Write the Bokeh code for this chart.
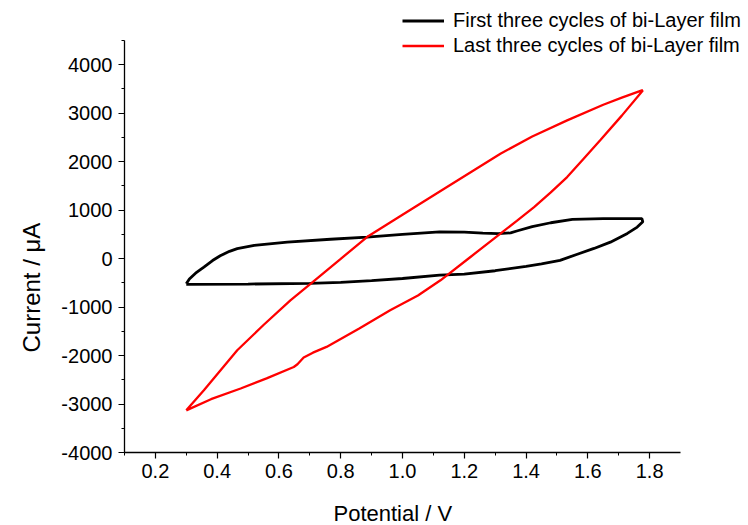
from bokeh.plotting import figure
from bokeh.models import Legend, LegendItem, SingleIntervalTicker, NumeralTickFormatter, Range1d, Title
from bokeh.embed import file_html
from bokeh.resources import INLINE

# First three cycles (black): forward then reverse scan
black_v = [0.300, 0.310, 0.330, 0.357, 0.385, 0.410, 0.440, 0.465, 0.520, 0.627, 0.767, 0.885,
           1.000, 1.120, 1.200, 1.260, 1.310, 1.350, 1.370, 1.420, 1.480, 1.550, 1.650, 1.775,
           1.778, 1.760, 1.728, 1.673, 1.620, 1.566, 1.510, 1.450, 1.400, 1.300, 1.200, 1.120,
           1.000, 0.900, 0.800, 0.700, 0.500, 0.300]
black_i = [-520, -420, -300, -175, -40, 60, 150, 205, 275, 340, 400, 445,
           500, 550, 545, 525, 515, 530, 570, 660, 740, 810, 825, 825,
           760, 650, 520, 340, 210, 90, -35, -110, -160, -250, -320, -340,
           -410, -455, -490, -510, -525, -530]

# Last three cycles (red)
red_v = [0.300, 0.357, 0.465, 0.550, 0.637, 0.710, 0.800, 0.885, 1.000, 1.144, 1.317, 1.420,
         1.533, 1.650, 1.710, 1.775,
         1.778, 1.710, 1.640, 1.585, 1.533, 1.480, 1.426, 1.370, 1.317, 1.220, 1.123, 1.050,
         0.960, 0.860, 0.754, 0.710, 0.680, 0.660, 0.648, 0.560, 0.476, 0.380, 0.300]
red_i = [-3130, -2715, -1890, -1370, -860, -480, -5, 445, 903, 1476, 2165, 2520,
         2852, 3175, 3320, 3470,
         3470, 2950, 2440, 2050, 1683, 1365, 1064, 780, 515, 34, -447, -760,
         -1066, -1440, -1822, -1940, -2040, -2180, -2235, -2470, -2680, -2900, -3130]

legend_labels = ["First three cycles of bi-Layer film", "Last three cycles of bi-Layer film"]
x_title = "Potential / V"
y_title = "Current / μA"

# axis extents
x_lo, x_hi = 0.1, 1.9
y_lo, y_hi = -4000, 4500

FONT = "Liberation Sans"

# The frame is extended up to the top and right edges of the page so that the
# legend (which sits partly above the axes) is not clipped; the axes use bounds.
AX_W, AX_H = 556, 412          # visible axes box in px
FR_W, FR_H = 624, 452          # frame in px
x_end = x_lo + (x_hi - x_lo) * FR_W / AX_W
y_end = y_lo + (y_hi - y_lo) * FR_H / AX_H

p = figure(width=748, height=525, frame_width=FR_W, frame_height=FR_H,
           min_border_left=124, min_border_right=0, min_border_top=0, min_border_bottom=73,
           x_range=Range1d(x_lo, x_end), y_range=Range1d(y_lo, y_end),
           output_backend="svg", toolbar_location=None)

p.outline_line_color = None
p.xgrid.visible = False
p.ygrid.visible = False
p.background_fill_color = "white"
p.border_fill_color = "white"

r1 = p.line(black_v, black_i, line_color="black", line_width=2.8)
r2 = p.line(red_v, red_i, line_color="#ff0000", line_width=2.3)

for ax in (p.xaxis[0], p.yaxis[0]):
    ax.axis_line_color = "black"
    ax.axis_line_width = 1.3
    ax.major_tick_line_color = "black"
    ax.minor_tick_line_color = "black"
    ax.major_tick_line_width = 1.2
    ax.minor_tick_line_width = 1.0
    ax.major_tick_in = 0
    ax.major_tick_out = 6
    ax.minor_tick_in = 0
    ax.minor_tick_out = 3
    ax.major_label_text_font = FONT
    ax.major_label_text_font_size = "20px"
    ax.major_label_text_color = "black"

p.xaxis[0].bounds = (x_lo, x_hi)
p.yaxis[0].bounds = (y_lo, y_hi)
p.xaxis[0].ticker = SingleIntervalTicker(interval=0.2, num_minor_ticks=2)
p.yaxis[0].ticker = SingleIntervalTicker(interval=1000, num_minor_ticks=2)
p.xaxis[0].formatter = NumeralTickFormatter(format="0.0")
p.yaxis[0].formatter = NumeralTickFormatter(format="0")
p.xaxis[0].major_label_standoff = 5
p.yaxis[0].major_label_standoff = 6

# spacer between the x axis and its title
spacer = Title(text=" ", text_font=FONT, text_font_size="12px", standoff=0)
p.add_layout(spacer, "below")

xt = Title(text=x_title, align="left", offset=209, text_font=FONT, text_font_size="22px",
           text_font_style="normal", text_color="black", standoff=4)
yt = Title(text=y_title, align="left", offset=100, text_font=FONT, text_font_size="24px",
           text_font_style="normal", text_color="black", standoff=28)
p.add_layout(xt, "below")
p.add_layout(yt, "left")

legend = Legend(items=[LegendItem(label=legend_labels[0], renderers=[r1]),
                       LegendItem(label=legend_labels[1], renderers=[r2])],
                location=(278, 394), orientation="vertical")
legend.border_line_color = None
legend.background_fill_alpha = 0
legend.padding = 0
legend.margin = 0
legend.spacing = 0
legend.label_height = 25
legend.glyph_height = 25
legend.glyph_width = 42
legend.label_standoff = 9
legend.label_text_font = FONT
legend.label_text_font_size = "20px"
legend.label_text_color = "black"
p.add_layout(legend, "center")

open("out.html", "w").write(file_html(p, INLINE))
